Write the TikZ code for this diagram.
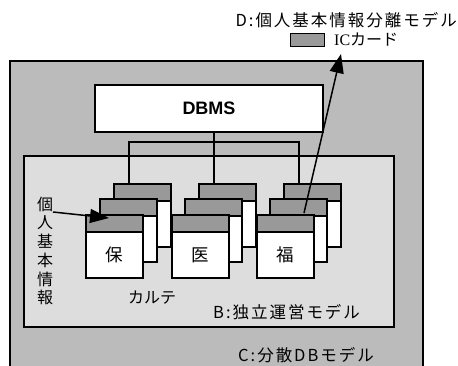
\documentclass[tikz,border=0pt]{standalone}
\usepackage{fontspec}
\setmainfont{Noto Sans CJK JP}
\newfontfamily\spaced[LetterSpace=12]{Noto Sans CJK JP}
\newfontfamily\latinsans{Liberation Sans}
\newfontfamily\latinserif{Liberation Serif}
\usetikzlibrary{arrows.meta,calc}
\definecolor{outergray}{HTML}{BBBBBB}
\definecolor{innergray}{HTML}{DDDDDD}
\definecolor{headgray}{HTML}{999999}
\tikzset{
  ln/.style={line width=2pt},
  card/.style={ln, draw=black, fill=white, minimum width=57pt, minimum height=63pt, inner sep=0pt, outer sep=0pt, anchor=north west},
  lbl/.style={inner sep=0pt, font=\fontsize{16}{18}\selectfont},
  wlbl/.style={inner sep=0pt, font=\spaced\fontsize{16.5}{18}\selectfont},
  bigarrow/.style={line width=1.5pt, -{Triangle[length=19pt,width=14pt]}},
}
\newcommand{\mycard}[4]{%
  \node[card] (#1) at (#2,#3) {};
  \draw[ln, fill=headgray] (#1.north west) rectangle ([yshift=-17pt]#1.north east);
  \node[lbl, font=\fontsize{17.5}{20}\selectfont] (#1t) at ($([yshift=-17pt]#1.north west)!0.5!(#1.south east)$) {#4};
}
\begin{document}
\begin{tikzpicture}[x=1pt,y=-1pt]
\clip (0,0) rectangle (458,366);
\fill[white] (0,0) rectangle (458,366);
% outer C box
\node[ln, draw, fill=outergray, anchor=north west, minimum width=413pt, minimum height=320pt, inner sep=0pt, outer sep=0pt] (cbox) at (10,61) {};
% inner B box
\node[ln, draw, fill=innergray, anchor=north west, minimum width=370pt, minimum height=171pt, inner sep=0pt, outer sep=0pt] (bbox) at (24,156) {};
% DBMS
\node[ln, draw, fill=white, anchor=north west, minimum width=228pt, minimum height=47pt, inner sep=0pt, outer sep=0pt] (dbms) at (95,85) {};
\node[inner sep=0pt, font=\latinsans\bfseries\fontsize{18}{20}\selectfont] (dbmst) at (209,108) {DBMS};
% cards: back, middle, front
\mycard{b1}{114}{184.5}{}
\mycard{m1}{100}{199.5}{}
\mycard{f1}{86}{215}{保}
\mycard{b2}{199}{184.5}{}
\mycard{m2}{185}{199.5}{}
\mycard{f2}{172}{215}{医}
\mycard{b3}{284}{184.5}{}
\mycard{m3}{270}{199.5}{}
\mycard{f3}{257}{215}{福}
% connectors from DBMS
\coordinate (bus) at (214,142);
\draw[ln] ([xshift=15pt]b2.north west) -- ([xshift=15pt]b2.north west |- dbms.south);
\draw[ln] ([xshift=15pt]b1.north west) |- (bus) -| ([xshift=15pt]b3.north west);
% labels
\node[lbl, align=center, font=\fontsize{16}{18.7}\selectfont] (kojin) at (45,251) {個\\人\\基\\本\\情\\報};
\node[lbl] (karte) at (152,298) {カルテ};
\node[wlbl, anchor=west] (blabel) at (213,312) {B:独立運営モデル};
\node[wlbl, anchor=west] (clabel) at (238,355) {C:分散DBモデル};
\node[wlbl, anchor=east] (dlabel) at (457,20) {D:個人基本情報分離モデル};
% IC card legend
\node[line width=1.4pt, draw, fill=headgray, anchor=north west, minimum width=34pt, minimum height=13pt, inner sep=0pt] (icbox) at (290,33) {};
\node[lbl, anchor=west] (ictext) at (334,40) {{\latinserif IC}カード};
\coordinate (ictip) at (341,54);
% arrows
\draw[bigarrow] ([xshift=-10pt,yshift=2pt]f3.north east) -- (ictip);
\draw[bigarrow] (53,212) -- ([xshift=23pt,yshift=-3pt]f1.north west);
\end{tikzpicture}
\end{document}
